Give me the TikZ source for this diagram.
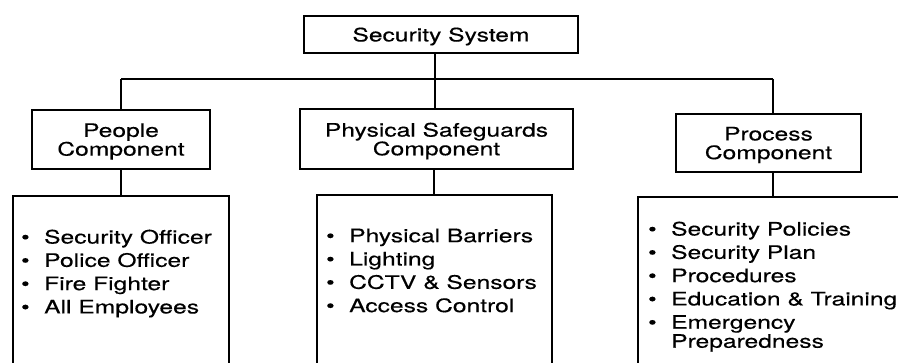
\documentclass[tikz,border=0pt]{standalone}
\usepackage{fontspec}
\setmainfont{TeX Gyre Heros}[FakeStretch=1.33,FakeBold=0.35]
% heading and list type sizes
\newcommand\hdfont{\fontsize{18.5}{18.7}\selectfont}
\newcommand\lsfont{\fontsize{18.5}{19}\selectfont}
% bullet hung to the left of an item
\newcommand\bul{\leavevmode\llap{\textbullet\hspace{14.5pt}}}
\begin{document}
\begin{tikzpicture}[x=1pt,y=-1pt,
  box/.style={draw, line width=2pt, rectangle, inner sep=0pt, outer sep=0pt,
    align=center, font=\hdfont, text depth=0pt},
  listbox/.style={draw, line width=2pt, rectangle, inner sep=0pt, outer sep=0pt,
    anchor=north west, minimum height=260pt},
  items/.style={anchor=north west, inner sep=0pt, align=left, font=\lsfont},
  wire/.style={line width=2pt}]
\clip (0,0) rectangle (898,363);
\fill[white] (0,0) rectangle (898,363);

% headings
\node[box, minimum width=274pt, minimum height=37pt] (sys) at (441,34.5) {Security System};
\node[box, minimum width=178pt, minimum height=59pt] (ppl) at (121,139.5) {People\\Component};
\node[box, minimum width=273pt, minimum height=60pt] (phy) at (436.5,139) {Physical Safeguards\\Component};
\node[box, minimum width=185pt, minimum height=58pt] (prc) at (768.5,143) {Process\\Component};

% open-ended list boxes
\node[listbox, minimum width=216pt] (pl) at (13,196) {};
\node[listbox, minimum width=235pt] (sl) at (316.5,195) {};
\node[listbox, minimum width=300pt] (rl) at (638,197) {};

% bus line
\coordinate (jl) at (121,79);
\coordinate (jm) at (435,79);
\coordinate (jr) at (773,79);
\draw[wire] (jl) -- (jr);
\draw[wire] (sys.south -| jm) -- (phy.north -| jm);
\draw[wire] (jl) -- (ppl.north -| jl);
\draw[wire] (jr) -- (prc.north -| jr);

% heading to list
\draw[wire] (ppl.south) -- (pl.north -| ppl.south);
\draw[wire] (phy.south -| sl.north) -- (sl.north);
\draw[wire] (prc.south -| jr) -- (rl.north -| jr);

% list contents
\node[items] (pt) at (44,229.5) {\bul Security Officer\\[4.3pt]\bul Police Officer\\[4.3pt]\bul Fire Fighter\\[4.3pt]\bul All Employees};
\node[items] (st) at (349,228.5) {\bul Physical Barriers\\[4.3pt]\bul Lighting\\[4.3pt]\bul CCTV \& Sensors\\[4.3pt]\bul Access Control};
\node[items] (rt) at (671,221.5) {\bul Security Policies\\[4.3pt]\bul Security Plan\\[4.3pt]\bul Procedures\\[4.3pt]\bul Education \& Training\\[4.3pt]\bul Emergency\\Preparedness};
\end{tikzpicture}
\end{document}
